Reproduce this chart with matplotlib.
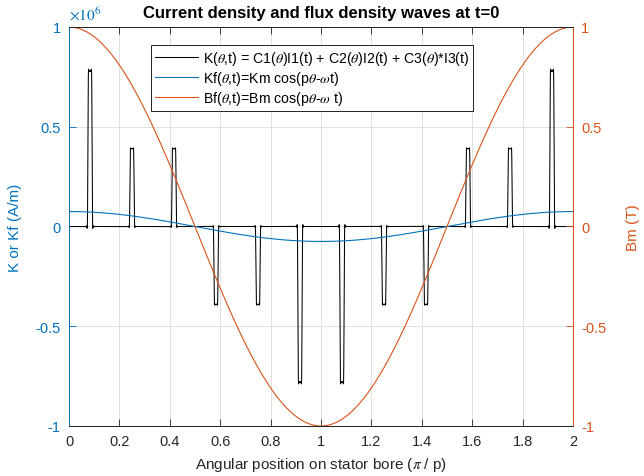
import numpy as np
import matplotlib
matplotlib.use("Agg")
import matplotlib.pyplot as plt

# ---- data -------------------------------------------------------------
# conductor positions along the bore, in units of pi/p
pulse_centers = [1/12, 3/12, 5/12, 7/12, 9/12, 11/12,
                 13/12, 15/12, 17/12, 19/12, 21/12, 23/12]
# current density sheet amplitude of each conductor (A/m)
pulse_amps = [0.78e6, 0.39e6, 0.39e6, -0.39e6, -0.39e6, -0.78e6,
              -0.78e6, -0.39e6, -0.39e6, 0.39e6, 0.39e6, 0.78e6]
pulse_width = 0.0167          # conductor width (pi/p units)
n_harmonics = 600             # harmonics kept in the series for K
Km = 0.075e6                  # fundamental current-density amplitude (A/m)
Bm = 1.0                      # flux-density amplitude (T)

x_ticks = [0, 0.2, 0.4, 0.6, 0.8, 1, 1.2, 1.4, 1.6, 1.8, 2]
yl_ticks = [-1, -0.5, 0, 0.5, 1]
yr_ticks = [-1, -0.5, 0, 0.5, 1]

# ---- K(theta) as a truncated (sigma-smoothed) Fourier series ----------
M = 24000
spec = np.zeros(M // 2 + 1, dtype=complex)
n = np.arange(1, n_harmonics + 1)
for c, a in zip(pulse_centers, pulse_amps):
    spec[1:n_harmonics + 1] += a * np.exp(-1j * n * np.pi * c) * \
        np.sin(n * np.pi * pulse_width / 2) / (n * np.pi)
    spec[0] += a * pulse_width / 2
spec[1:n_harmonics + 1] *= np.sinc(n / (n_harmonics + 1))
K = np.fft.irfft(spec * M, n=M)
xK = 2 * np.arange(M) / M
xK = np.append(xK, 2.0)
K = np.append(K, K[0])

x = np.linspace(0, 2, 1001)
Kf = Km * np.cos(np.pi * x)
Bf = Bm * np.cos(np.pi * x)

# ---- styling ----------------------------------------------------------
plt.rcParams['font.family'] = ['Liberation Sans', 'DejaVu Sans']
plt.rcParams['axes.unicode_minus'] = False
plt.rcParams['mathtext.fontset'] = 'stix'

blue = '#0072BD'
orange = '#D95319'
dark = '#262626'

W, H = 644, 477
L, R, T, B = 69, 573, 28, 427
fig = plt.figure(figsize=(W / 100, H / 100), dpi=100)
ax = fig.add_axes([L / W, 1 - B / H, (R - L) / W, (B - T) / H])
ax2 = ax.twinx()

lk, = ax.plot(xK, K, color='black', lw=0.75)
lkf, = ax.plot(x, Kf, color=blue, lw=0.8)
lbf, = ax2.plot(x, Bf, color=orange, lw=0.8)

ax.set_xlim(0, 2)
ax.set_ylim(-1e6, 1e6)
ax2.set_ylim(-1, 1)

ax.set_xticks(x_ticks)
ax.set_xticklabels([f"{t:g}" for t in x_ticks])
ax.set_yticks([v * 1e6 for v in yl_ticks])
ax.set_yticklabels([f"{t:g}" for t in yl_ticks])
ax2.set_yticks(yr_ticks)
ax2.set_yticklabels([f"{t:g}" for t in yr_ticks])

ax.grid(True, color='#dcdcdc', lw=0.6)
ax.set_axisbelow(True)

ax.tick_params(axis='x', direction='in', length=5, colors=dark, labelsize=10.5,
               top=True, width=0.6, pad=6)
ax.tick_params(axis='y', direction='in', length=5, colors=blue, labelsize=10.5,
               width=0.6, pad=6)
ax2.tick_params(axis='y', direction='in', length=5, colors=orange, labelsize=10.5,
                width=0.6, pad=6)

for a in (ax, ax2):
    a.spines['top'].set_color(dark)
    a.spines['bottom'].set_color(dark)
    a.spines['left'].set_color(blue)
    a.spines['right'].set_color(orange)
    for s in a.spines.values():
        s.set_linewidth(0.7)

ax.set_xlabel(r"Angular position on stator bore ($\pi$ / p)", fontsize=11,
              color=dark, labelpad=5)
ax.set_ylabel("K or Kf (A/m)", fontsize=11, color=blue, labelpad=10)
ax2.set_ylabel("Bm (T)", fontsize=11, color=orange, labelpad=14)
ax.set_title("Current density and flux density waves at t=0", fontsize=12,
             fontweight='bold', color='black', pad=7)

ax.text(0.0, 1.012, r"$\times10^{6}$", transform=ax.transAxes, color=blue,
        fontsize=11, ha='left', va='bottom')

ax2.legend([lk, lkf, lbf],
           [r"K($\theta$,t) = C1($\theta$)I1(t) + C2($\theta$)I2(t) + C3($\theta$)*I3(t)",
            r"Kf($\theta$,t)=Km cos(p$\theta$-$\omega$t)",
            r"Bf($\theta$,t)=Bm cos(p$\theta$-$\omega$ t)"],
           loc='upper left', bbox_to_anchor=((151 - L) / (R - L), (B - 46) / (B - T)),
           fontsize=10.2, frameon=True, fancybox=False, framealpha=1,
           edgecolor='black', handlelength=3.0, borderpad=0.3,
           labelspacing=0.12, handletextpad=0.35, borderaxespad=0)
ax2.get_legend().get_frame().set_linewidth(0.6)

fig.savefig("out.png", dpi=100)
